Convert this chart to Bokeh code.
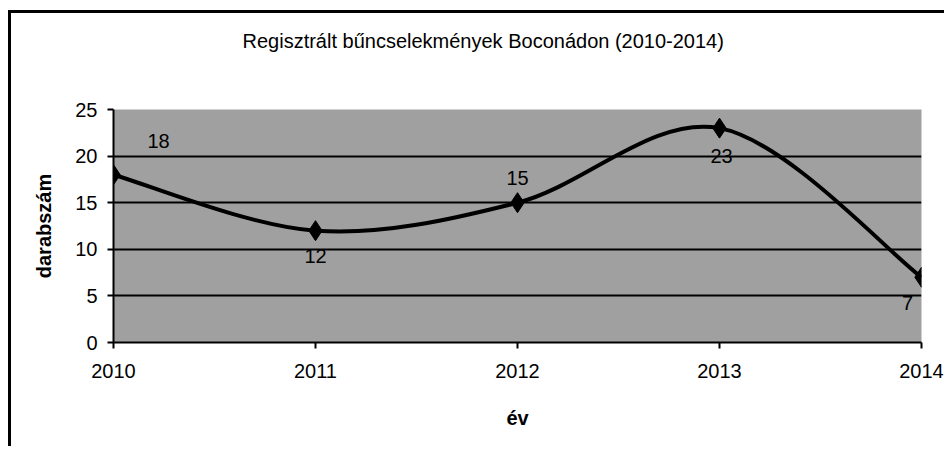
from bokeh.plotting import figure
from bokeh.models import ColumnDataSource, Range1d, FixedTicker, Label, Title
from bokeh.embed import file_html
from bokeh.resources import INLINE

years = [2010, 2011, 2012, 2013, 2014]
counts = [18, 12, 15, 23, 7]
y_ticks = [0, 5, 10, 15, 20, 25]
title_text = "Regisztrált bűncselekmények Boconádon (2010-2014)"
x_label = "év"
y_label = "darabszám"

FONT = "Liberation Sans"

p = figure(width=936, height=436, output_backend="svg", toolbar_location=None,
           x_range=Range1d(2010, 2014), y_range=Range1d(0, 25),
           min_border_left=102, min_border_right=26, min_border_top=96, min_border_bottom=107,
           styles={"margin-left": "8px", "margin-top": "10px",
                   "border-top": "3px solid black", "border-left": "3px solid black"})

# main title (outermost panel) + an empty spacer title between it and the plot area
p.title.text = title_text
p.title.align = "left"
p.title.offset = 129
p.title.standoff = 0
p.title.text_font = FONT
p.title.text_font_size = "20px"
p.title.text_font_style = "normal"
p.title.text_color = "black"
p.add_layout(Title(text=" ", text_font_size="10px", standoff=45), "above")

p.background_fill_color = "#a0a0a0"
p.border_fill_color = "white"
p.outline_line_color = None

p.xaxis.ticker = FixedTicker(ticks=years)
p.yaxis.ticker = FixedTicker(ticks=y_ticks)
for ax in (p.xaxis, p.yaxis):
    ax.axis_line_color = "black"
    ax.axis_line_width = 2
    ax.major_tick_line_color = "black"
    ax.major_tick_line_width = 2
    ax.major_tick_out = 6
    ax.major_tick_in = 0
    ax.minor_tick_line_color = None
    ax.major_label_text_font = FONT
    ax.major_label_text_font_size = "20px"
    ax.major_label_text_color = "black"
    ax.axis_label_text_font = FONT
    ax.axis_label_text_font_size = "20px"
    ax.axis_label_text_font_style = "bold"
    ax.axis_label_text_color = "black"
p.xaxis.axis_label = x_label
p.yaxis.axis_label = y_label
p.xaxis.major_label_standoff = 15
p.xaxis.axis_label_standoff = 26
p.yaxis.major_label_standoff = 10
p.yaxis.axis_label_standoff = 17

p.xgrid.grid_line_color = None
p.ygrid.grid_line_color = "black"
p.ygrid.grid_line_width = 2

# Smoothed line (Catmull-Rom -> Bezier), as Excel's smoothed line
n = len(years)
x0s, y0s, x1s, y1s, cx0s, cy0s, cx1s, cy1s = [], [], [], [], [], [], [], []
for i in range(n - 1):
    pm = i - 1 if i > 0 else i
    pp = i + 2 if i + 2 < n else i + 1
    x0s.append(years[i]); y0s.append(counts[i])
    x1s.append(years[i + 1]); y1s.append(counts[i + 1])
    cx0s.append(years[i] + (years[i + 1] - years[pm]) / 6)
    cy0s.append(counts[i] + (counts[i + 1] - counts[pm]) / 6)
    cx1s.append(years[i + 1] - (years[pp] - years[i]) / 6)
    cy1s.append(counts[i + 1] - (counts[pp] - counts[i]) / 6)
p.bezier(x0=x0s, y0=y0s, x1=x1s, y1=y1s, cx0=cx0s, cy0=cy0s, cx1=cx1s, cy1=cy1s,
         line_color="black", line_width=4)

src = ColumnDataSource(dict(x=years, y=counts))
p.scatter("x", "y", source=src, marker="diamond", size=20, fill_color="black", line_color="black")

# data labels (pixel offsets: right, down)
dx = [45, 0, 0, 2, -14]
dy = [-34, 25, -25, 28, 26]
for i in range(n):
    p.add_layout(Label(x=years[i], y=counts[i], text=str(counts[i]), x_offset=dx[i], y_offset=-dy[i],
                       text_align="center", text_baseline="middle", text_font=FONT,
                       text_font_size="20px", text_color="black"))

open("out.html", "w").write(file_html(p, INLINE))
